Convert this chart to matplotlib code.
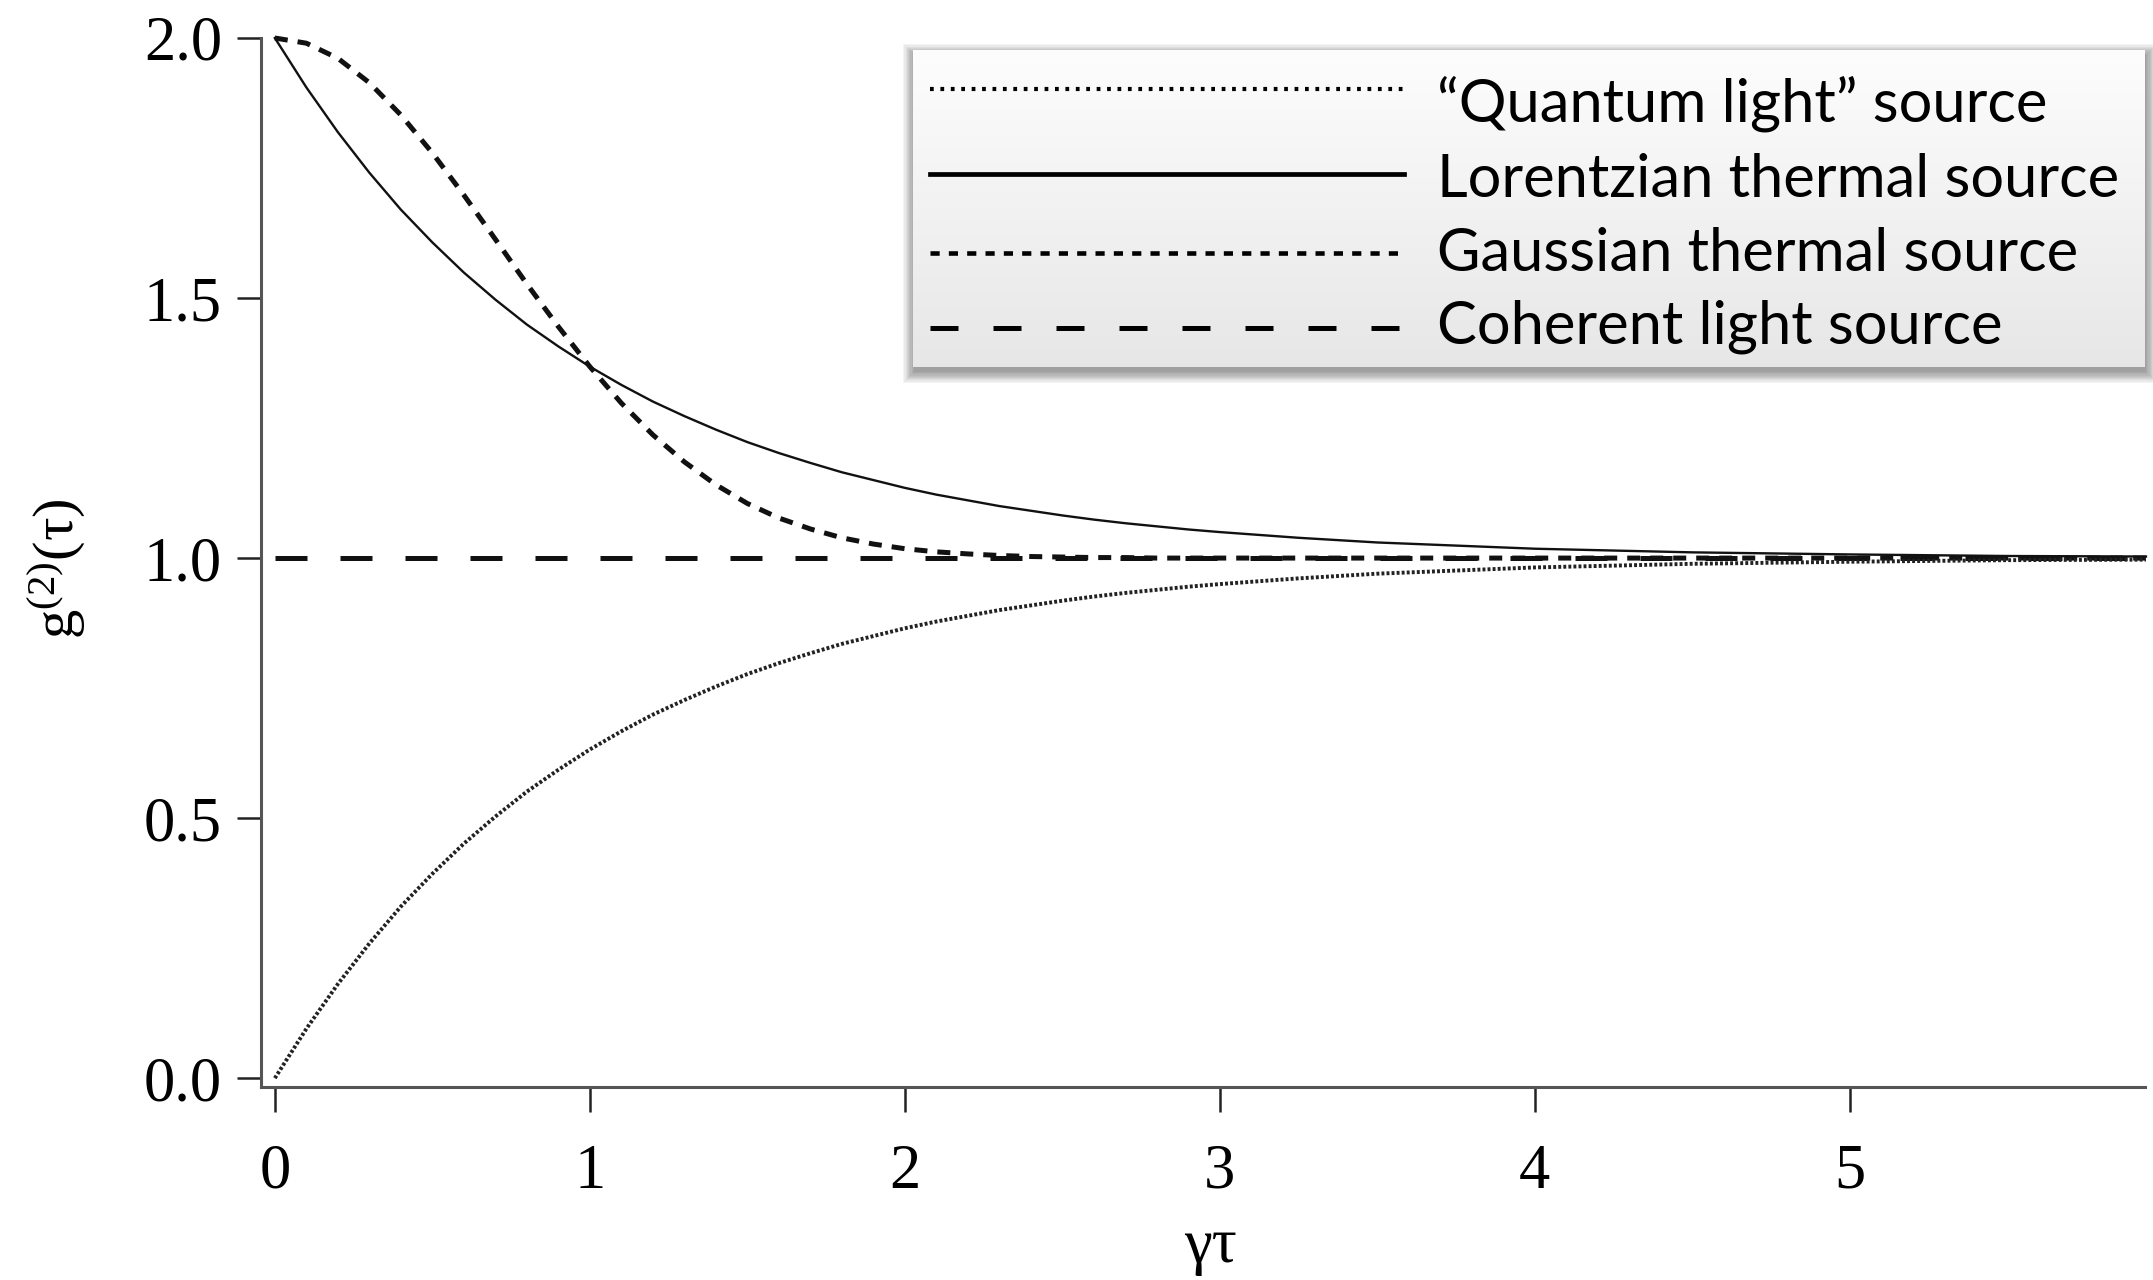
import matplotlib
matplotlib.use("Agg")
import matplotlib.pyplot as plt
import numpy as np
from matplotlib.patches import Rectangle

# ---------------- data ----------------
tau = [0.0, 0.1, 0.2, 0.3, 0.4, 0.5, 0.6, 0.7, 0.8, 0.9,
       1.0, 1.1, 1.2, 1.3, 1.4, 1.5, 1.6, 1.7, 1.8, 1.9,
       2.0, 2.1, 2.2, 2.3, 2.4, 2.5, 2.6, 2.7, 2.8, 2.9,
       3.0, 3.25, 3.5, 3.75, 4.0, 4.5, 5.0, 5.5, 5.94]

quantum = [0.000, 0.095, 0.181, 0.259, 0.330, 0.393, 0.451, 0.503, 0.551, 0.593,
           0.632, 0.667, 0.699, 0.727, 0.753, 0.777, 0.798, 0.817, 0.835, 0.850,
           0.865, 0.878, 0.889, 0.900, 0.909, 0.918, 0.926, 0.933, 0.939, 0.945,
           0.950, 0.961, 0.970, 0.976, 0.982, 0.989, 0.993, 0.996, 0.997]

lorentzian = [2.000, 1.905, 1.819, 1.741, 1.670, 1.607, 1.549, 1.497, 1.449, 1.407,
              1.368, 1.333, 1.301, 1.273, 1.247, 1.223, 1.202, 1.183, 1.165, 1.150,
              1.135, 1.122, 1.111, 1.100, 1.091, 1.082, 1.074, 1.067, 1.061, 1.055,
              1.050, 1.039, 1.030, 1.024, 1.018, 1.011, 1.007, 1.004, 1.003]

gaussian = [2.000, 1.990, 1.961, 1.914, 1.852, 1.779, 1.698, 1.613, 1.527, 1.445,
            1.368, 1.298, 1.237, 1.185, 1.141, 1.105, 1.077, 1.056, 1.039, 1.027,
            1.018, 1.012, 1.008, 1.005, 1.003, 1.002, 1.001, 1.001, 1.000, 1.000,
            1.000, 1.000, 1.000, 1.000, 1.000, 1.000, 1.000, 1.000, 1.000]

coherent_tau = [0.0, 5.94]
coherent = [1.0, 1.0]

labels = ["\u201cQuantum light\u201d source", "Lorentzian thermal source",
          "Gaussian thermal source", "Coherent light source"]
xticks = [0, 1, 2, 3, 4, 5]
yticks = [0.0, 0.5, 1.0, 1.5, 2.0]

# ---------------- figure ----------------
plt.rcParams["mathtext.fontset"] = "custom"
plt.rcParams["mathtext.rm"] = "Liberation Serif"
plt.rcParams["mathtext.it"] = "Liberation Serif:italic"
plt.rcParams["font.family"] = "Liberation Serif"

W, H = 2153, 1280
fig = plt.figure(figsize=(W / 100, H / 100), dpi=100)
fig.patch.set_facecolor("white")


def fx(x):
    return x / W


def fy(y):
    return 1 - y / H


ax = fig.add_axes([fx(261), fy(1087), (2145 - 261) / W, (1087 - 38) / H])
ax.set_xlim(-0.044, 5.937)
ax.set_ylim(-0.017, 2.0)
for s in ("top", "right"):
    ax.spines[s].set_visible(False)
for s in ("left", "bottom"):
    ax.spines[s].set_color("#555555")
    ax.spines[s].set_linewidth(2.2)

styles = {
    "quantum": dict(color="#222222", lw=2.8, linestyle=(0, (0.75, 0.55)), dash_capstyle="butt"),
    "lorentz": dict(color="#111111", lw=1.7, linestyle="-"),
    "gauss": dict(color="#111111", lw=3.6, linestyle=(0, (2.6, 2.0)), dash_capstyle="butt"),
    "coherent": dict(color="#111111", lw=3.6, linestyle=(0, (6.4, 6.6)), dash_capstyle="butt"),
}

ax.plot(coherent_tau, coherent, clip_on=False, zorder=2, **styles["coherent"])
ax.plot(tau, gaussian, clip_on=False, zorder=3, **styles["gauss"])
ax.plot(tau, lorentzian, clip_on=False, zorder=4, **styles["lorentz"])
ax.plot(tau, quantum, clip_on=False, zorder=5, **styles["quantum"])

ax.set_xticks(xticks)
ax.set_xticklabels([str(t) for t in xticks])
ax.set_yticks(yticks)
ax.set_yticklabels([f"{t:.1f}" for t in yticks])
ax.tick_params(axis="x", direction="out", length=18, width=1.8, color="#222222",
               labelsize=45, pad=23)
ax.tick_params(axis="y", direction="out", length=17, width=1.8, color="#222222",
               labelsize=45, pad=11)

fig.text(fx(56), fy(569), "g$^{\\mathrm{(2)}}$(\u03c4)",
         rotation=90, ha="center", va="center", fontsize=42)
fig.text(fx(1210), fy(1247), "\u03b3\u03c4", ha="center", va="center", fontsize=45)

# ---------------- legend box ----------------
L, R, T, B = 913, 2145, 50, 367
# soft shadow
for i in range(10):
    grow = i * 1.2
    fig.patches.append(Rectangle((fx(L - grow + 1), fy(B + 5 + grow)),
                                 (R - L + 2 * grow) / W, (B - T + 2 * grow) / H,
                                 transform=fig.transFigure, facecolor="black",
                                 edgecolor="none", alpha=0.045, zorder=1))

lax = fig.add_axes([fx(L), fy(B), (R - L) / W, (B - T) / H], zorder=3)
lax.set_xlim(L, R)
lax.set_ylim(B, T)
lax.axis("off")
grad = np.linspace(0, 1, 256).reshape(-1, 1)
top_c = np.array([0.992, 0.992, 0.992])
bot_c = np.array([0.905, 0.905, 0.905])
img = top_c[None, None, :] * (1 - grad[:, :, None]) + bot_c[None, None, :] * grad[:, :, None]
lax.imshow(img, extent=[L, R, B, T], aspect="auto", zorder=0, interpolation="bilinear")

handle_y = [89, 174, 253, 328]
base_y = [122, 197, 271, 344]
leg_styles = [
    dict(color="#000000", lw=3.0, linestyle=(0, (0.9, 1.6)), dash_capstyle="butt"),
    dict(color="#000000", lw=3.4, linestyle="-"),
    dict(color="#000000", lw=3.3, linestyle=(0, (2.0, 2.0)), dash_capstyle="butt"),
    dict(color="#000000", lw=3.6, linestyle=(0, (5.6, 7.0)), dash_capstyle="butt"),
]
for hy, st in zip(handle_y, leg_styles):
    lax.plot([930, 1404], [hy, hy], zorder=2, **st)

texts = []
for by, lab in zip(base_y, labels):
    t = lax.text(1437, by, lab, ha="left", va="baseline", fontsize=34,
                 family=["Lato", "DejaVu Sans"], color="black", zorder=3)
    texts.append(t)

fig.canvas.draw()
r = fig.canvas.get_renderer()
wpx = texts[1].get_window_extent(renderer=r).width
scale = 684.0 / wpx
for t in texts:
    t.set_fontsize(34 * scale)

fig.savefig("out.png", dpi=100, facecolor="white")
